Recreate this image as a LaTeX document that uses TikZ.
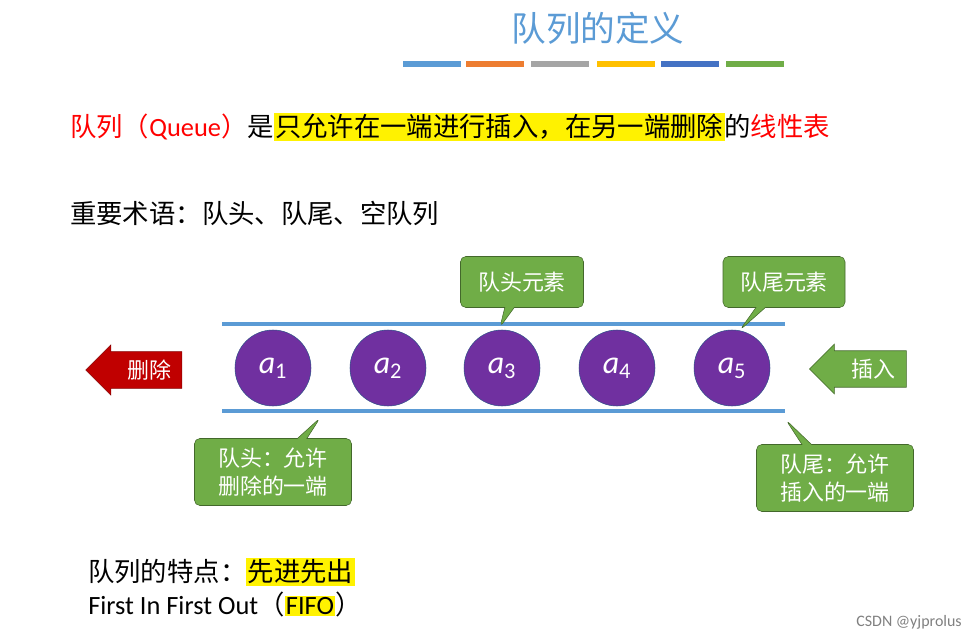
\documentclass[tikz,border=0pt]{standalone}
\usepackage{fontspec}
\setmainfont{Noto Sans CJK SC}
\newfontfamily\latinf{Carlito}
\usetikzlibrary{shapes.arrows,shapes.callouts}
\definecolor{tblue}{HTML}{5B9BD5}
\definecolor{tor}{HTML}{ED7D31}
\definecolor{tgr}{HTML}{A5A5A5}
\definecolor{tgo}{HTML}{FFC000}
\definecolor{tdb}{HTML}{4472C4}
\definecolor{tgn}{HTML}{70AD47}
\definecolor{tpu}{HTML}{7030A0}
\definecolor{tred}{HTML}{C00000}
\newcommand{\hl}[1]{\colorbox{yellow}{#1}}
\begin{document}
\begin{tikzpicture}[x=0.0264cm,y=-0.0264cm,
  txt/.style={anchor=west,inner sep=0pt,font=\fontsize{19.8}{23}\selectfont},
  elem/.style={circle,draw=tdb!70!black,fill=tpu,minimum size=76*0.0264cm,inner sep=0pt,text=white,font=\fontsize{24}{26}\selectfont\latinf\itshape},
  callout/.style={rectangle callout,draw=tgn!60!black,fill=tgn,text=white,rounded corners=4pt,font=\fontsize{16.5}{21}\selectfont,align=left,inner sep=5pt},
  bar/.style={line width=5pt}]
\fboxsep=1pt
\path[use as bounding box] (0,0) rectangle (977,643);
\node (title) at (598,28) {\textcolor{tblue}{\fontsize{26}{30}\selectfont 队列的定义}};
\foreach \a/\c in {403/tblue,466/tor,531/tgr,597/tgo,661/tdb,726/tgn}
  \draw[bar,\c] (\a,64) -- ++(58,0);
\node[txt] (def) at (70,127) {\textcolor{red}{队列（{\latinf Queue}）}是\hl{只允许在一端进行插入，在另一端删除}的\textcolor{red}{线性表}};
\node[txt] (terms) at (70,213) {重要术语：队头、队尾、空队列};
\coordinate (tl) at (222,324); \coordinate (tr) at (785,324);
\coordinate (bl) at (222,411); \coordinate (br) at (785,411);
\draw[tblue,line width=2.5pt] (tl) -- (tr) (bl) -- (br);
\foreach \i/\x in {1/273,2/388,3/502,4/617,5/732}
  \node[elem] (a\i) at (\x,368) {a\textsubscript{\upshape\i}};
\node[single arrow,shape border rotate=180,fill=tred,draw=tred!70!black,text=white,minimum height=96*0.0264cm,minimum width=50*0.0264cm,single arrow head extend=4pt,inner sep=3pt,font=\fontsize{16.5}{19}\selectfont] (del) at (143,370) {\hspace{10pt}删除};
\node[single arrow,shape border rotate=180,fill=tgn,draw=tgn!60!black,text=white,minimum height=97*0.0264cm,minimum width=50*0.0264cm,single arrow head extend=4pt,inner sep=3pt,font=\fontsize{16.5}{19}\selectfont] (ins) at (867,369) {\hspace{10pt}插入};
\node[callout,minimum width=123*0.0264cm,minimum height=51*0.0264cm,callout absolute pointer={(500,327)}] (head) at (522,282) {队头元素};
\node[callout,minimum width=122*0.0264cm,minimum height=51*0.0264cm,callout absolute pointer={(740,330)}] (tail) at (784,282) {队尾元素};
\node[callout,minimum width=157*0.0264cm,minimum height=67*0.0264cm,callout absolute pointer={(320,418)}] (hd) at (273,472) {队头：允许\\删除的一端};
\node[callout,minimum width=157*0.0264cm,minimum height=67*0.0264cm,callout absolute pointer={(786,420)}] (td) at (835,478) {队尾：允许\\插入的一端};
\node[txt] (feat) at (88,572) {队列的特点：\hl{先进先出}};
\node[txt] (fifo) at (88,604) {{\latinf First In First Out}（\hl{\latinf FIFO}）};
\node[anchor=east,inner sep=0pt,text=gray,font=\fontsize{12}{14}\selectfont\latinf] (wm) at (962,622) {CSDN @yjprolus};
\end{tikzpicture}
\end{document}
